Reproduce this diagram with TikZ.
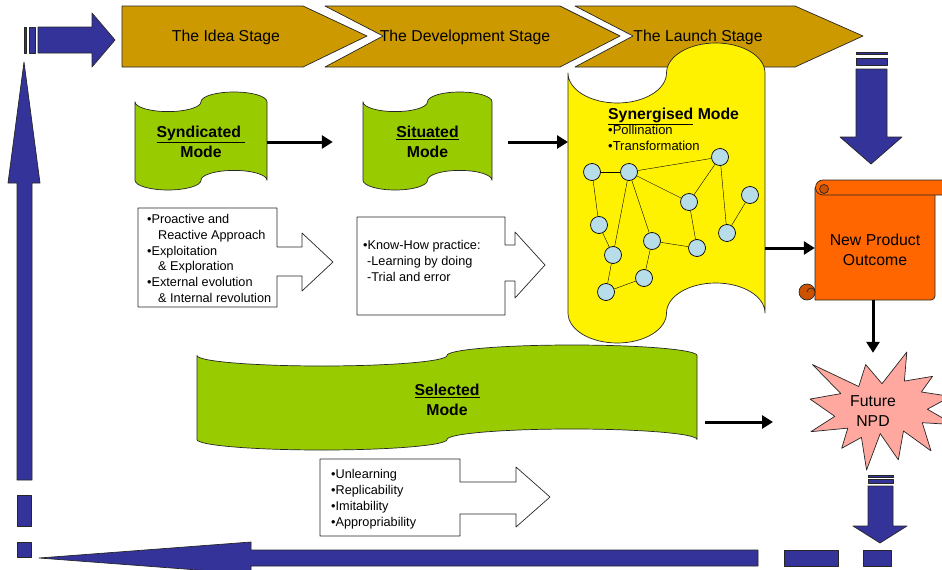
\documentclass[tikz,border=0pt]{standalone}
\usepackage{fontspec}
\setmainfont{Liberation Sans}
\usepackage{tikz}
\usetikzlibrary{arrows.meta}
\definecolor{npdblue}{RGB}{51,51,153}
\definecolor{stagegold}{RGB}{204,153,0}
\definecolor{modegreen}{RGB}{153,204,0}
\definecolor{outcomeorange}{RGB}{255,102,0}
\definecolor{curlorange}{RGB}{204,82,0}
\definecolor{starpink}{RGB}{255,168,160}
\definecolor{netblue}{RGB}{183,222,232}
\tikzset{l/.style={font=\fontsize{12.7}{15.8}\selectfont}}
\tikzset{k/.style={font=\fontsize{13}{15.5}\selectfont}}
\tikzset{s/.style={font=\fontsize{15.8}{19.5}\selectfont}}
\tikzset{m/.style={font=\fontsize{15.8}{19.5}\selectfont\bfseries}}
\tikzset{blk/.style={draw=black!85,line width=0.7pt}}
\tikzset{ar/.style={line width=3pt,-{Triangle[length=11pt,width=13pt]}}}
\tikzset{dot/.style={circle,draw,line width=0.7pt,fill=netblue,minimum size=17pt,inner sep=0pt}}
% punched tape: x, y, width, height, fill
\newcommand{\modetape}[5]{%
  \filldraw[blk,fill=#5] (#1,{#2+#4/10})
    arc[start angle=180,delta angle=-180,x radius={#3/4},y radius={#4/10}]
    arc[start angle=180,delta angle=180,x radius={#3/4},y radius={#4/10}]
    -- ({#1+#3},{#2+0.9*#4})
    arc[start angle=0,delta angle=-180,x radius={#3/4},y radius={#4/10}]
    arc[start angle=0,delta angle=180,x radius={#3/4},y radius={#4/10}]
    -- cycle;}

\begin{document}
\begin{tikzpicture}[x=1pt,y=-1pt,line join=round]
  \useasboundingbox (0,0) rectangle (942,570);

  % stages
  \filldraw[blk,fill=stagegold] (122,6)--(303,6)--(367,36)--(303,67)--(122,67)--cycle;
  \filldraw[blk,fill=stagegold] (325,6)--(560,6)--(620,36)--(560,67)--(325,67)--(383,36)--cycle;
  \filldraw[blk,fill=stagegold] (575,6)--(795,6)--(863,36)--(795,67)--(575,67)--(633,36)--cycle;

  % blue loop
  \filldraw[blk,fill=npdblue] (24,27) rectangle (26,53);
  \filldraw[blk,fill=npdblue] (29,27) rectangle (35,53);
  \filldraw[blk,fill=npdblue] (38,27)--(92,27)--(92,13)--(115,40)--(92,67)--(92,53)--(38,53)--cycle;
  \filldraw[blk,fill=npdblue] (856,52) rectangle (887,54);
  \filldraw[blk,fill=npdblue] (856,58) rectangle (887,65);
  \filldraw[blk,fill=npdblue] (856,69)--(887,69)--(887,137)--(902,137)--(871,164)--(840,137)--(856,137)--cycle;
  \filldraw[blk,fill=npdblue] (868,475) rectangle (893,477);
  \filldraw[blk,fill=npdblue] (868,479) rectangle (893,483);
  \filldraw[blk,fill=npdblue] (868,486)--(893,486)--(893,526)--(907,526)--(880,543)--(853,526)--(868,526)--cycle;
  \filldraw[blk,fill=npdblue] (863,550) rectangle (891,566);
  \filldraw[blk,fill=npdblue] (784,550) rectangle (838,566);
  \filldraw[blk,fill=npdblue] (758,550)--(758,566)--(251,566)--(251,574)--(39,558)--(251,542)--(251,550)--cycle;
  \filldraw[blk,fill=npdblue] (17,542) rectangle (31,557);
  \filldraw[blk,fill=npdblue] (17,495) rectangle (31,526);
  \filldraw[blk,fill=npdblue] (17,480)--(17,183)--(8,183)--(24,62)--(40,183)--(32,183)--(32,480)--cycle;

  % modes
  \modetape{135}{92}{132}{98}{modegreen}
  \modetape{363}{92}{129}{98}{modegreen}
  \modetape{197}{345}{500}{105}{modegreen}
  \modetape{568}{43}{197}{300}{yellow}

  % scroll
  \filldraw[blk,fill=outcomeorange] (815,188)--(815,300) [rounded corners=4pt]--(935,300)--(935,190) [sharp corners]--(823,190)--cycle;
  \filldraw[blk,fill=outcomeorange] (823,180)--(950,180)--(950,195)--(823,195)
    arc[start angle=90,delta angle=180,radius=7.5]--cycle;
  \filldraw[blk,fill=curlorange] (824,189) circle (4.5);
  \filldraw[blk,fill=curlorange] (807,292) circle (8);
  \draw[blk] (807,292) arc[start angle=180,delta angle=180,radius=4];

  % burst
  \begin{scope}[shift={(810,352)},x=1.44pt,y=-1.18pt]
    \filldraw[blk,fill=starpink] (50,26.85)--(67.23,0)--(65.53,24.65)--(85.09,20.63)--(77.32,33.87)
      --(97.67,37.67)--(81.51,48.50)--(100,61.53)--(77.95,59.92)--(84.00,83.77)--(64.91,66.93)
      --(61.33,91.38)--(48.76,69.14)--(39.28,100)--(35.72,72.35)--(22.05,81.56)--(26.24,64.52)
      --(0.63,67.53)--(17.23,54.51)--(0,39.88)--(21.42,35.26)--(1.71,10.63)--(33.85,29.26)
      --(38.67,10.63)--cycle;
  \end{scope}

  % callouts
  \filldraw[blk,fill=white] (138,208)--(277,208)--(277,247)--(302,247)--(302,233)--(333,262)
    --(302,291)--(302,276)--(277,276)--(277,307)--(138,307)--cycle;
  \filldraw[blk,fill=white] (357,217)--(505,217)--(505,245)--(515,245)--(515,232)--(545,265)
    --(515,298)--(515,281)--(505,281)--(505,315)--(357,315)--cycle;
  \filldraw[blk,fill=white] (320,459)--(460,459)--(460,482)--(516,482)--(516,467)--(550,497)
    --(516,527)--(516,514)--(460,514)--(460,536)--(320,536)--cycle;

  % network
  \node[dot] (n1) at (592,172) {};
  \node[dot] (n2) at (629,172) {} edge (n1);
  \node[dot] (n3) at (720,157) {} edge (n2);
  \node[dot] (n4) at (689,202) {} edge (n2) edge (n3);
  \node[dot] (n5) at (750,195) {};
  \node[dot] (n6) at (599,225) {} edge (n1);
  \node[dot] (n7) at (652,241) {} edge (n2);
  \node[dot] (n8) at (697,248) {} edge (n7) edge (n4);
  \node[dot] (n9) at (727,233) {} edge (n3) edge (n5);
  \node[dot] (n10) at (613,255) {} edge (n6) edge (n2);
  \node[dot] (n11) at (644,278) {} edge (n7);
  \node[dot] (n12) at (606,292) {} edge (n10) edge (n11);

  \node[s] (idea) at (226,37) {The Idea Stage};
  \node[s] (devel) at (465,37) {The Development Stage};
  \node[s] (launch) at (698,37) {The Launch Stage};

  \node[m,align=center,minimum width=132pt] (synd) at (201,142) {\underline{Syndicated\ }\\Mode};
  \node[m,align=center,minimum width=129pt] (situ) at (427.5,142) {\underline{Situated}\\Mode};
  \node[m,align=center,minimum width=500pt] (sel) at (447,400) {\underline{Selected}\\Mode};
  \node[m,anchor=base west,inner sep=0pt] (syntitle) at (608,119) {\underline{Synergised} Mode};
  \node[k,anchor=north west,align=left,inner sep=0pt] (synlist) at (608,125) {•Pollination\\•Transformation};
  \node[s,align=center,minimum width=120pt,minimum height=100pt] (npo) at (875,250) {New Product\\Outcome};
  \node[s,align=center,minimum width=126pt,minimum height=116pt] (npd) at (873,411) {Future\\NPD};

  \begin{scope}[l]
    \node[anchor=north west,align=left,inner sep=0pt] (drivers) at (147,214)
      {•Proactive and\\\hspace*{11pt}Reactive Approach\\•Exploitation\\\hspace*{11pt}\& Exploration\\•External evolution\\\hspace*{11pt}\& Internal revolution};
    \node[anchor=north west,align=left,inner sep=0pt] (knowhow) at (363,240.5)
      {•Know-How practice:\\\hspace*{4pt}-Learning by doing\\\hspace*{4pt}-Trial and error};
    \node[anchor=north west,align=left,inner sep=0pt] (unlearn) at (331,469.5)
      {•Unlearning\\•Replicability\\•Imitability\\•Appropriability};
  \end{scope}

  \coordinate (synleft) at (568,142);
  \coordinate (synright) at (765,248);
  \coordinate (npdleft) at (773,422);
  \draw[ar,shorten >=30pt] (synd.east) -- (situ.west);
  \draw[ar,shorten <=16pt] (situ.east) -- (synleft);
  \draw[ar] (synright) -- (npo.west |- synright);
  \draw[ar] (npo.south -| npd.north) -- (npd.north);
  \draw[ar,shorten <=8pt] (sel.east |- npdleft) -- (npdleft);
\end{tikzpicture}
\end{document}
